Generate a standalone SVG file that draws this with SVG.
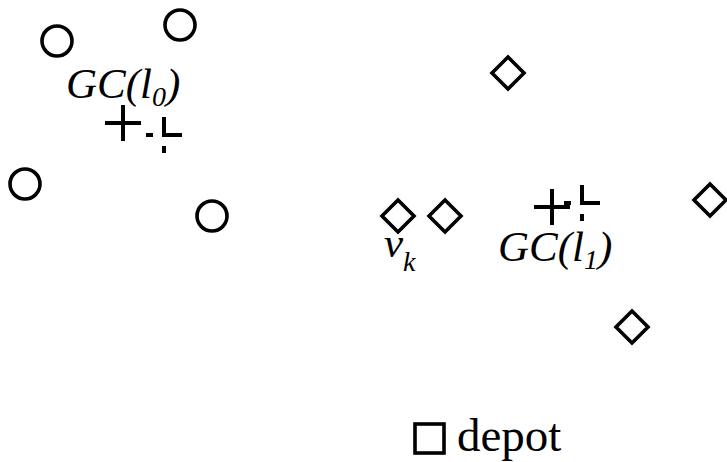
<svg xmlns="http://www.w3.org/2000/svg" width="727" height="462" viewBox="0 0 727 462">
  <style>
    .node { fill: none; stroke: #000; stroke-width: 3.6; }
    .mark { fill: none; stroke: #000; stroke-width: 4; stroke-linecap: butt; }
    .lbl { font-family: "Liberation Serif", "Times New Roman", serif; font-style: italic; font-size: 43px; fill: #000; }
    .sub { font-size: 28px; }
    .plain { font-family: "Liberation Serif", "Times New Roman", serif; font-size: 47px; fill: #000; }
  </style>
  <defs>
    <circle id="cust0" r="15" class="node"/>
    <path id="cust1" d="M0,-16 L16,0 L0,16 L-16,0 Z" class="node"/>
    <path id="gcSolid" d="M-18,0 H18 M0,-18 V18" class="mark"/>
    <!-- dashed centroid marker: short dash, gap, then long dash on each axis -->
    <path id="gcDash" d="M-18,0 H-11 M-2,0 H18 M0,18 V11 M0,2 V-18" class="mark"/>
  </defs>

  <!-- cluster l0: circles -->
  <g id="c0"><use href="#cust0" x="57" y="41"/></g>
  <g id="c1"><use href="#cust0" x="180" y="25"/></g>
  <g id="c2"><use href="#cust0" x="25" y="184"/></g>
  <g id="c3"><use href="#cust0" x="212" y="216"/></g>

  <g id="gc0">
    <use href="#gcSolid" x="123" y="123"/>
    <use href="#gcDash" x="164" y="135"/>
    <text class="lbl" x="66" y="98">GC(l<tspan class="sub" dy="8">0</tspan><tspan dy="-8">)</tspan></text>
  </g>

  <!-- cluster l1: diamonds -->
  <g id="d0"><use href="#cust1" x="508" y="73"/></g>
  <g id="vk">
    <use href="#cust1" x="398" y="216"/>
    <text class="lbl" x="384" y="257">v<tspan class="sub" dy="14">k</tspan></text>
  </g>
  <g id="d2"><use href="#cust1" x="445" y="216"/></g>
  <g id="d3"><use href="#cust1" x="710" y="200"/></g>
  <g id="d4"><use href="#cust1" x="632" y="327"/></g>

  <g id="gc1">
    <use href="#gcSolid" x="552" y="207"/>
    <use href="#gcDash" x="582" y="203"/>
    <text class="lbl" x="498" y="261">GC(l<tspan class="sub" dy="8">1</tspan><tspan dy="-8">)</tspan></text>
  </g>

  <!-- depot -->
  <g id="depot">
    <rect x="415" y="424" width="29" height="29" class="node"/>
    <text class="plain" x="457" y="451">depot</text>
  </g>

  <g id="connectors"/>
</svg>
